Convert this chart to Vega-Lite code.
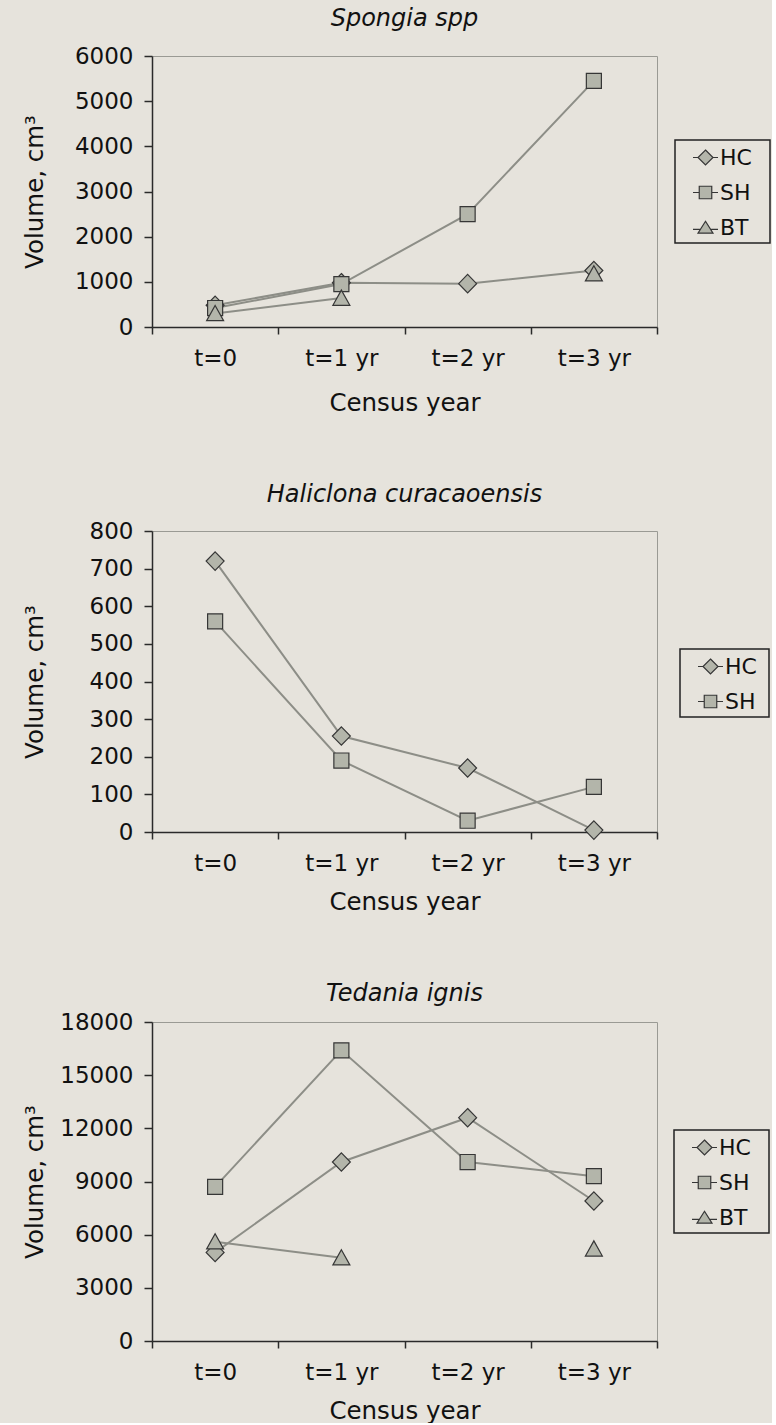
{
  "$schema": "https://vega.github.io/schema/vega-lite/v6.json",
  "background": "#e6e3dc",
  "padding": {"left": 21, "top": 6, "right": 0, "bottom": 0},
  "spacing": 67,
  "config": {
    "font": "DejaVu Sans",
    "view": {"stroke": "#9a9a94", "strokeWidth": 1},
    "axis": {
      "grid": false,
      "domainColor": "#2a2a2a",
      "domainWidth": 1.5,
      "tickColor": "#2a2a2a",
      "tickWidth": 1.5,
      "labelFont": "DejaVu Sans",
      "labelFontSize": 23,
      "labelColor": "#111111",
      "titleFont": "DejaVu Sans",
      "titleFontSize": 24.5,
      "titleFontWeight": "normal",
      "titleColor": "#111111"
    },
    "axisX": {
      "tickBand": "extent",
      "tickSize": 7,
      "labelPadding": 31,
      "labelBaseline": "alphabetic",
      "labelAngle": 0,
      "titleBaseline": "alphabetic"
    },
    "axisY": {
      "tickSize": 8,
      "labelPadding": 11,
      "format": "d",
      "titleX": -110,
      "titleBaseline": "alphabetic",
      "titleAngle": 270
    },
    "title": {
      "font": "DejaVu Sans",
      "fontSize": 24,
      "fontStyle": "italic",
      "fontWeight": "normal",
      "color": "#111111",
      "frame": "group",
      "anchor": "middle",
      "baseline": "alphabetic"
    },
    "legend": {
      "orient": "none",
      "labelFont": "DejaVu Sans",
      "labelFontSize": 22,
      "labelColor": "#111111",
      "labelOffset": 1,
      "symbolSize": 625,
      "symbolOffset": 13,
      "rowPadding": 10,
      "padding": 4,
      "strokeColor": "#222222",
      "strokeWidth": 1.5,
      "fillColor": "#e6e3dc",
      "symbolOpacity": 1,
      "symbolStrokeWidth": 1.2,
      "titleOrient": "right",
      "titleFontSize": 8,
      "titlePadding": 11,
      "titleOpacity": 0,
      "titleColor": "#e6e3dc"
    }
  },
  "datasets": {
    "spongia": [
      {"site": "HC", "census": "t=0", "volume": 480},
      {"site": "HC", "census": "t=1 yr", "volume": 980},
      {"site": "HC", "census": "t=2 yr", "volume": 960},
      {"site": "HC", "census": "t=3 yr", "volume": 1250},
      {"site": "SH", "census": "t=0", "volume": 420},
      {"site": "SH", "census": "t=1 yr", "volume": 950},
      {"site": "SH", "census": "t=2 yr", "volume": 2500},
      {"site": "SH", "census": "t=3 yr", "volume": 5450},
      {"site": "BT", "census": "t=0", "volume": 300},
      {"site": "BT", "census": "t=1 yr", "volume": 640},
      {"site": "BT", "census": "t=2 yr", "volume": null},
      {"site": "BT", "census": "t=3 yr", "volume": 1180}
    ],
    "haliclona": [
      {"site": "HC", "census": "t=0", "volume": 720},
      {"site": "HC", "census": "t=1 yr", "volume": 255},
      {"site": "HC", "census": "t=2 yr", "volume": 170},
      {"site": "HC", "census": "t=3 yr", "volume": 5},
      {"site": "SH", "census": "t=0", "volume": 560},
      {"site": "SH", "census": "t=1 yr", "volume": 190},
      {"site": "SH", "census": "t=2 yr", "volume": 30},
      {"site": "SH", "census": "t=3 yr", "volume": 120}
    ],
    "tedania": [
      {"site": "HC", "census": "t=0", "volume": 5000},
      {"site": "HC", "census": "t=1 yr", "volume": 10100},
      {"site": "HC", "census": "t=2 yr", "volume": 12600},
      {"site": "HC", "census": "t=3 yr", "volume": 7900},
      {"site": "SH", "census": "t=0", "volume": 8700},
      {"site": "SH", "census": "t=1 yr", "volume": 16400},
      {"site": "SH", "census": "t=2 yr", "volume": 10100},
      {"site": "SH", "census": "t=3 yr", "volume": 9300},
      {"site": "BT", "census": "t=0", "volume": 5600},
      {"site": "BT", "census": "t=1 yr", "volume": 4700},
      {"site": "BT", "census": "t=2 yr", "volume": null},
      {"site": "BT", "census": "t=3 yr", "volume": 5200}
    ]
  },
  "vconcat": [
    {
      "title": {"text": "Spongia spp", "offset": 14},
      "width": 505,
      "height": 271,
      "data": {"name": "spongia"},
      "encoding": {
        "x": {"field": "census", "type": "nominal", "sort": ["t=0", "t=1 yr", "t=2 yr", "t=3 yr"],
              "scale": {"type": "band", "paddingInner": 0, "paddingOuter": 0},
              "axis": {"title": "Census year", "titleY": 83}},
        "y": {"field": "volume", "type": "quantitative",
              "scale": {"domain": [0, 6000], "nice": false},
              "axis": {"values": [0, 1000, 2000, 3000, 4000, 5000, 6000], "title": "Volume, cm³"}}
      },
      "layer": [
        {"mark": {"type": "line", "color": "#8d8e87", "strokeWidth": 2, "invalid": "break-paths-show-domains"},
         "encoding": {"detail": {"field": "site"}}},
        {"mark": {"type": "point", "filled": true, "fill": "#b3b5aa", "stroke": "#363636", "strokeWidth": 1.2, "size": 256, "opacity": 1},
         "encoding": {"shape": {"field": "site", "type": "nominal", "legend": null,
           "scale": {"domain": ["HC", "SH", "BT"], "range": ["M0,-1.15L1.12,0L0,1.15L-1.12,0Z", "M-0.94,-0.94L0.94,-0.94L0.94,0.94L-0.94,0.94Z", "M0,-1L1.06,0.9L-1.06,0.9Z"]}}}},
        {"mark": {"type": "point", "filled": true, "fill": "#b3b5aa", "stroke": "#363636", "strokeWidth": 1.2, "opacity": 0},
         "encoding": {"shape": {"field": "site", "type": "nominal",
           "scale": {"domain": ["HC", "SH", "BT"], "range": ["M-1,0L-0.6,0M0.6,0L1,0M0,-0.6L0.6,0L0,0.6L-0.6,0Z", "M-1,0L-0.5,0M0.5,0L1,0M-0.5,-0.5L0.5,-0.5L0.5,0.5L-0.5,0.5Z", "M-1,0.15L-0.45,0.15M0.45,0.15L1,0.15M0,-0.5L0.6,0.45L-0.6,0.45Z"]},
           "legend": {"title": "I", "legendX": 523, "legendY": 84}}}}
      ],
      "resolve": {"scale": {"shape": "independent"}, "legend": {"shape": "independent"}}
    },
    {
      "title": {"text": "Haliclona curacaoensis", "offset": 13},
      "width": 505,
      "height": 301,
      "data": {"name": "haliclona"},
      "encoding": {
        "x": {"field": "census", "type": "nominal", "sort": ["t=0", "t=1 yr", "t=2 yr", "t=3 yr"],
              "scale": {"type": "band", "paddingInner": 0, "paddingOuter": 0},
              "axis": {"title": "Census year", "titleY": 77}},
        "y": {"field": "volume", "type": "quantitative",
              "scale": {"domain": [0, 800], "nice": false},
              "axis": {"values": [0, 100, 200, 300, 400, 500, 600, 700, 800], "title": "Volume, cm³"}}
      },
      "layer": [
        {"mark": {"type": "line", "color": "#8d8e87", "strokeWidth": 2, "invalid": "break-paths-show-domains"},
         "encoding": {"detail": {"field": "site"}}},
        {"mark": {"type": "point", "filled": true, "fill": "#b3b5aa", "stroke": "#363636", "strokeWidth": 1.2, "size": 256, "opacity": 1},
         "encoding": {"shape": {"field": "site", "type": "nominal", "legend": null,
           "scale": {"domain": ["HC", "SH"], "range": ["M0,-1.15L1.12,0L0,1.15L-1.12,0Z", "M-0.94,-0.94L0.94,-0.94L0.94,0.94L-0.94,0.94Z"]}}}},
        {"mark": {"type": "point", "filled": true, "fill": "#b3b5aa", "stroke": "#363636", "strokeWidth": 1.2, "opacity": 0},
         "encoding": {"shape": {"field": "site", "type": "nominal",
           "scale": {"domain": ["HC", "SH"], "range": ["M-1,0L-0.6,0M0.6,0L1,0M0,-0.6L0.6,0L0,0.6L-0.6,0Z", "M-1,0L-0.5,0M0.5,0L1,0M-0.5,-0.5L0.5,-0.5L0.5,0.5L-0.5,0.5Z"]},
           "legend": {"title": "I", "titlePadding": 5, "legendX": 528, "legendY": 118}}}}
      ],
      "resolve": {"scale": {"shape": "independent"}, "legend": {"shape": "independent"}}
    },
    {
      "title": {"text": "Tedania ignis", "offset": 5},
      "width": 505,
      "height": 319,
      "data": {"name": "tedania"},
      "encoding": {
        "x": {"field": "census", "type": "nominal", "sort": ["t=0", "t=1 yr", "t=2 yr", "t=3 yr"],
              "scale": {"type": "band", "paddingInner": 0, "paddingOuter": 0},
              "axis": {"title": "Census year", "titleY": 77}},
        "y": {"field": "volume", "type": "quantitative",
              "scale": {"domain": [0, 18000], "nice": false},
              "axis": {"values": [0, 3000, 6000, 9000, 12000, 15000, 18000], "title": "Volume, cm³"}}
      },
      "layer": [
        {"mark": {"type": "line", "color": "#8d8e87", "strokeWidth": 2, "invalid": "break-paths-show-domains"},
         "encoding": {"detail": {"field": "site"}}},
        {"mark": {"type": "point", "filled": true, "fill": "#b3b5aa", "stroke": "#363636", "strokeWidth": 1.2, "size": 256, "opacity": 1},
         "encoding": {"shape": {"field": "site", "type": "nominal", "legend": null,
           "scale": {"domain": ["HC", "SH", "BT"], "range": ["M0,-1.15L1.12,0L0,1.15L-1.12,0Z", "M-0.94,-0.94L0.94,-0.94L0.94,0.94L-0.94,0.94Z", "M0,-1L1.06,0.9L-1.06,0.9Z"]}}}},
        {"mark": {"type": "point", "filled": true, "fill": "#b3b5aa", "stroke": "#363636", "strokeWidth": 1.2, "opacity": 0},
         "encoding": {"shape": {"field": "site", "type": "nominal",
           "scale": {"domain": ["HC", "SH", "BT"], "range": ["M-1,0L-0.6,0M0.6,0L1,0M0,-0.6L0.6,0L0,0.6L-0.6,0Z", "M-1,0L-0.5,0M0.5,0L1,0M-0.5,-0.5L0.5,-0.5L0.5,0.5L-0.5,0.5Z", "M-1,0.15L-0.45,0.15M0.45,0.15L1,0.15M0,-0.5L0.6,0.45L-0.6,0.45Z"]},
           "legend": {"title": "I", "legendX": 522, "legendY": 108}}}}
      ],
      "resolve": {"scale": {"shape": "independent"}, "legend": {"shape": "independent"}}
    }
  ]
}
